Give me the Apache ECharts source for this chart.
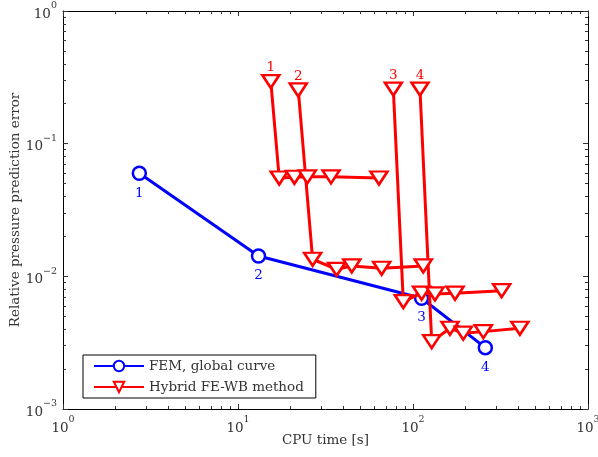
<!DOCTYPE html>
<html>
<head>
<meta charset="utf-8">
<script src="https://cdn.jsdelivr.net/npm/echarts@6/dist/echarts.min.js"></script>
<style>
  html, body { margin: 0; padding: 0; background: #fff; }
  #chart { width: 598px; height: 457px; }
</style>
</head>
<body>
<div id="chart"></div>
<script>
  // FEM, global curve
  var femCpu = [2.73, 13.1, 112, 259]
  var femErr = [0.0598, 0.01425, 0.00684, 0.0029]
  var femLabels = ['1', '2', '3', '4']

  // Hybrid FE-WB method, one run per number
  var hybrid1Cpu = [15.4, 17.2, 21.0, 24.9, 34.0, 63.9]
  var hybrid1Err = [0.294, 0.0551, 0.0558, 0.0562, 0.0562, 0.0551]
  var hybrid2Cpu = [22.1, 26.7, 36.6, 44.7, 66.2, 114.5]
  var hybrid2Err = [0.254, 0.01345, 0.0113, 0.01198, 0.01151, 0.01198]
  var hybrid3Cpu = [77.2, 88.0, 112, 133.6, 173.9, 321]
  var hybrid3Err = [0.258, 0.00645, 0.00746, 0.00737, 0.00746, 0.0078]
  var hybrid4Cpu = [109.6, 127.9, 162.7, 193.8, 252.2, 408]
  var hybrid4Err = [0.258, 0.00322, 0.00406, 0.00373, 0.00383, 0.00406]
  var hybridLabels = ['1', '2', '3', '4']

  // minor tick positions
  var minorX = [2, 3, 4, 5, 6, 7, 8, 9, 20, 30, 40, 50, 60, 70, 80, 90, 200, 300, 400, 500, 600, 700, 800, 900]
  var minorY = [0.002, 0.003, 0.004, 0.005, 0.006, 0.007, 0.008, 0.009,
    0.02, 0.03, 0.04, 0.05, 0.06, 0.07, 0.08, 0.09, 0.2, 0.3, 0.4, 0.5, 0.6, 0.7, 0.8, 0.9]

  var FONT = 'DejaVu Serif'
  var TXT = '#333'

  function pow10Label(v) {
    var e = Math.round(Math.log10(v))
    return '{b|10}{s|' + String(e).replace('-', '\u2212') + '}'
  }
  var tickRich = {
    b: { fontFamily: FONT, fontSize: 13.5, color: TXT, lineHeight: 20, verticalAlign: 'bottom' },
    s: { fontFamily: FONT, fontSize: 9.5, color: TXT, lineHeight: 14, verticalAlign: 'top' }
  }

  function zip(a, b) {
    return a.map(function (v, i) { return [v, b[i]] })
  }

  function xAxisDef(pos, minor) {
    return {
      type: 'log', logBase: 10, min: 1, max: 1000, position: pos,
      axisLine: { show: !minor, onZero: false, lineStyle: { color: '#000', width: 1 } },
      axisTick: minor
        ? { show: true, inside: true, length: 3, customValues: minorX, lineStyle: { color: '#333' } }
        : { show: true, inside: true, length: 5, lineStyle: { color: '#333' } },
      axisLabel: { show: pos === 'bottom' && !minor, formatter: pow10Label, rich: tickRich, margin: 6 },
      splitLine: { show: false },
      minorTick: { show: false }
    }
  }
  function yAxisDef(pos, minor) {
    return {
      type: 'log', logBase: 10, min: 0.001, max: 1, position: pos,
      axisLine: { show: !minor, onZero: false, lineStyle: { color: '#000', width: 1 } },
      axisTick: minor
        ? { show: true, inside: true, length: 3, customValues: minorY, lineStyle: { color: '#333' } }
        : { show: true, inside: true, length: 5, lineStyle: { color: '#333' } },
      axisLabel: { show: pos === 'left' && !minor, formatter: pow10Label, rich: tickRich, margin: 6 },
      splitLine: { show: false },
      minorTick: { show: false }
    }
  }

  var xAxes = [xAxisDef('bottom', false), xAxisDef('top', false), xAxisDef('bottom', true), xAxisDef('top', true)]
  xAxes[0].name = 'CPU time [s]'
  xAxes[0].nameLocation = 'middle'
  xAxes[0].nameGap = 24
  xAxes[0].nameMoveOverlap = false
  xAxes[0].nameTextStyle = { fontFamily: FONT, fontSize: 13.5, color: TXT }

  var yAxes = [yAxisDef('left', false), yAxisDef('right', false), yAxisDef('left', true), yAxisDef('right', true)]
  yAxes[0].name = 'Relative pressure prediction error'
  yAxes[0].nameLocation = 'middle'
  yAxes[0].nameGap = 41
  yAxes[0].nameMoveOverlap = false
  yAxes[0].nameTextStyle = { fontFamily: FONT, fontSize: 13.5, color: TXT }

  var RED = '#ff0000'
  var BLUE = '#0000ff'

  function hybridSeries(cpu, err, label) {
    return {
      name: 'Hybrid FE-WB method',
      type: 'line',
      data: zip(cpu, err),
      symbol: 'triangle',
      symbolRotate: 180,
      symbolSize: [17, 13],
      itemStyle: { color: '#fff', borderColor: RED, borderWidth: 2.5 },
      lineStyle: { color: RED, width: 3 },
      label: {
        show: true, position: 'top', distance: -1,
        fontFamily: FONT, fontSize: 13.5, color: RED,
        formatter: function (p) { return p.dataIndex === 0 ? label : '' }
      },
      z: 3
    }
  }

  var chart = echarts.init(document.getElementById('chart'))
  chart.setOption({
    animation: false,
    backgroundColor: '#fff',
    grid: { left: 63, right: 10, top: 11, bottom: 48, outerBoundsMode: 'none', containLabel: false },
    legend: {
      orient: 'vertical',
      left: 83, top: 355,
      data: ['FEM, global curve', 'Hybrid FE-WB method'],
      selectedMode: false,
      backgroundColor: '#fff',
      borderColor: '#000', borderWidth: 1, borderRadius: 0,
      padding: [4, 12, 4, 10],
      itemWidth: 50, itemHeight: 13, itemGap: 7,
      textStyle: { fontFamily: FONT, fontSize: 13.5, color: TXT }
    },
    xAxis: xAxes,
    yAxis: yAxes,
    series: [
      {
        name: 'FEM, global curve',
        type: 'line',
        data: zip(femCpu, femErr),
        symbol: 'circle',
        symbolSize: 13,
        itemStyle: { color: '#fff', borderColor: BLUE, borderWidth: 2.5 },
        lineStyle: { color: BLUE, width: 3 },
        label: {
          show: true, position: 'bottom', distance: 5,
          fontFamily: FONT, fontSize: 13.5, color: BLUE,
          formatter: function (p) { return femLabels[p.dataIndex] }
        },
        z: 2
      },
      hybridSeries(hybrid1Cpu, hybrid1Err, hybridLabels[0]),
      hybridSeries(hybrid2Cpu, hybrid2Err, hybridLabels[1]),
      hybridSeries(hybrid3Cpu, hybrid3Err, hybridLabels[2]),
      hybridSeries(hybrid4Cpu, hybrid4Err, hybridLabels[3])
    ]
  })
</script>
</body>
</html>
